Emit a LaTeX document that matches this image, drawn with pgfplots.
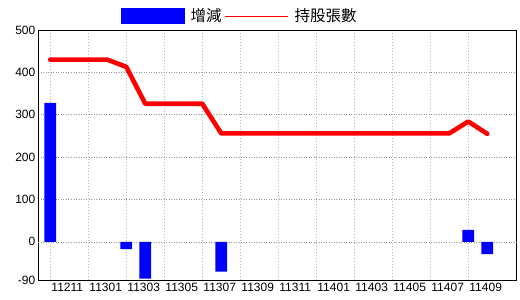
\documentclass[border=0pt]{standalone}
\usepackage{fontspec}
\setmainfont{Liberation Sans}
\newfontfamily\cjk{Noto Sans CJK TC}
\usepackage{pgfplots}
\pgfplotsset{compat=1.18}
\definecolor{vgrid}{RGB}{150,190,215}
\definecolor{hgrid}{RGB}{150,150,150}
\definecolor{barblue}{RGB}{0,0,255}
\definecolor{linered}{RGB}{255,0,0}
\begin{document}
\begin{tikzpicture}
\begin{axis}[
  scale only axis,
  width=478.2pt, height=250pt,
  xmin=-0.62, xmax=24.55,
  ymin=-90, ymax=500,
  axis line style={black, line width=0.8pt},
  xtick={0,2,...,22},
  xticklabels={11211,11301,11303,11305,11307,11309,11311,11401,11403,11405,11407,11409},
  ytick={-90,100,200,300,400,500},
  extra y ticks={0},
  extra y tick style={grid=major, major grid style={black, solid, line width=0.9pt}},
  major tick length=0pt,
  xmajorgrids, ymajorgrids,
  x grid style={vgrid, dash pattern=on 1pt off 2pt, line width=0.7pt},
  y grid style={hgrid, dash pattern=on 1pt off 1.5pt, line width=0.7pt},
  /pgf/number format/assume math mode=true,
  tick label style={font=\fontsize{12}{13}\selectfont},
  xticklabel style={anchor=north west, inner sep=0pt, xshift=1pt, yshift=-3pt},
  yticklabel style={anchor=east, inner sep=0pt, xshift=-3pt},
  legend columns=-1,
  legend style={at={(axis description cs:0.1726,1.088)}, anchor=north west,
    draw=none, fill=none, inner sep=0pt,
    nodes={inner sep=0pt, font=\cjk\fontsize{15.5}{16}\selectfont},
    /tikz/every even column/.style={column sep=3pt},
    /tikz/every odd column/.style={column sep=6pt}},
]
\addplot[ybar, bar width=11.7pt, fill=barblue, draw=none,
  legend image code/.code={\fill[barblue] (0pt,-8pt) rectangle (63.5pt,8pt);}]
  coordinates {(0,328) (4,-17) (5,-87) (9,-70) (22,28) (23,-29)};
\addlegendentry{增減}
\addplot[linered, line width=4.6pt, line join=round, line cap=round, no markers,
  legend image code/.code={\draw[linered, line width=1pt, line cap=butt] (0pt,0pt) -- (63pt,0pt);}]
  coordinates {(0,430) (1,430) (2,430) (3,430) (4,413) (5,326) (6,326) (7,326) (8,326)
   (9,256) (10,256) (11,256) (12,256) (13,256) (14,256) (15,256) (16,256) (17,256)
   (18,256) (19,256) (20,256) (21,256) (22,284) (23,255)};
\addlegendentry{持股張數}
\end{axis}
\pgfresetboundingbox
\useasboundingbox ([xshift=-38.5pt,yshift=-20pt]current axis.south west) rectangle ([xshift=3.3pt,yshift=30pt]current axis.north east);
\end{tikzpicture}
\end{document}
